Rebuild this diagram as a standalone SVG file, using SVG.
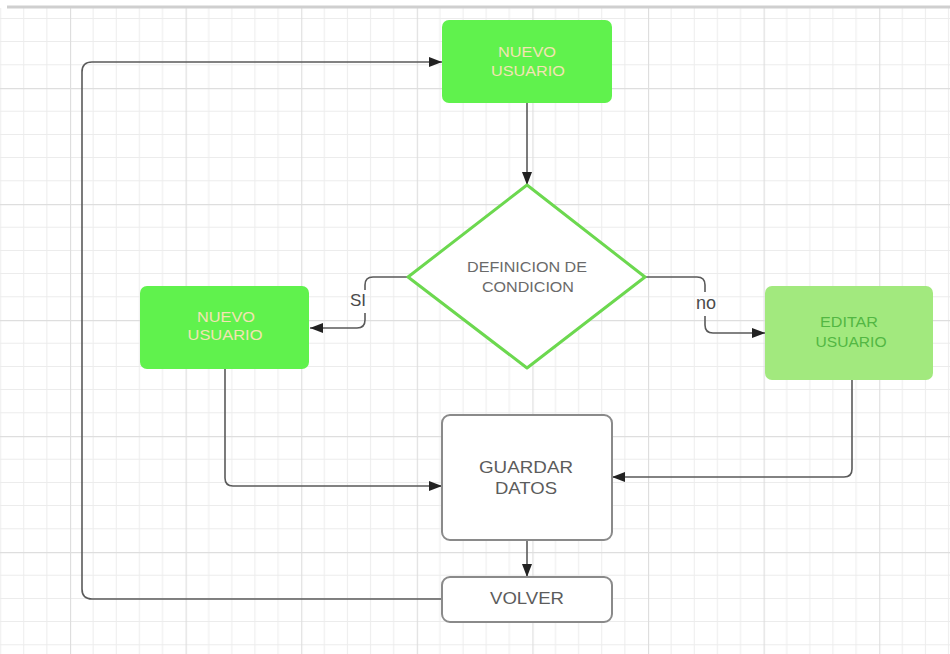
<svg xmlns="http://www.w3.org/2000/svg" width="950" height="654" viewBox="0 0 950 654">
  <style>
    .lbl { font-family: "Liberation Sans", Arial, sans-serif; text-anchor: middle; }
    .green { fill: #60f24d; }
    .light { fill: #a2e97e; }
    .white { fill: #ffffff; stroke: #8a8a8a; stroke-width: 2; }
    .conn { fill: none; stroke: #5a5a5a; stroke-width: 1.6; }
    .cream { fill: #f3e4b4; }
    .grey { fill: #5c5c5c; }
  </style>
  <defs>
    <marker id="arrow" markerUnits="userSpaceOnUse" markerWidth="13" markerHeight="10" refX="13" refY="5" orient="auto">
      <path d="M0,0 L13,5 L0,10 z" fill="#222"/>
    </marker>
    <pattern id="grid" patternUnits="userSpaceOnUse" x="70" y="88" width="115.6" height="116">
      <g stroke="#ececec" stroke-width="1">
        <line x1="23.12" y1="0" x2="23.12" y2="116"/>
        <line x1="46.24" y1="0" x2="46.24" y2="116"/>
        <line x1="69.36" y1="0" x2="69.36" y2="116"/>
        <line x1="92.48" y1="0" x2="92.48" y2="116"/>
        <line x1="0" y1="23.2" x2="115.6" y2="23.2"/>
        <line x1="0" y1="46.4" x2="115.6" y2="46.4"/>
        <line x1="0" y1="69.6" x2="115.6" y2="69.6"/>
        <line x1="0" y1="92.8" x2="115.6" y2="92.8"/>
      </g>
      <g stroke="#dedede" stroke-width="1.3">
        <line x1="0.5" y1="0" x2="0.5" y2="116"/>
        <line x1="0" y1="0.5" x2="115.6" y2="0.5"/>
      </g>
    </pattern>
  </defs>

  <!-- canvas -->
  <rect x="0" y="0" width="950" height="654" fill="#ffffff"/>
  <rect x="0" y="8" width="950" height="646" fill="url(#grid)"/>
  <line x1="7" y1="7" x2="950" y2="7" stroke="#cfcfcf" stroke-width="3"/>

  <!-- connectors -->
  <g id="connectors">
    <path class="conn" d="M527,103 V185" marker-end="url(#arrow)"/>
    <path class="conn" d="M408,277 H373 Q365,277 365,285 V290 M365,313 V320 Q365,328 357,328 H310" marker-end="url(#arrow)"/>
    <path class="conn" d="M645,277 H697 Q705,277 705,285 V292 M705,316 V325 Q705,333 713,333 H765" marker-end="url(#arrow)"/>
    <path class="conn" d="M225,369 V478 Q225,486 233,486 H442" marker-end="url(#arrow)"/>
    <path class="conn" d="M852,380 V469 Q852,477 844,477 H612" marker-end="url(#arrow)"/>
    <path class="conn" d="M527,540 V577" marker-end="url(#arrow)"/>
    <path class="conn" d="M442,599 H92 Q82,599 82,589 V72 Q82,62 92,62 H442" marker-end="url(#arrow)"/>
    <text class="lbl" x="358" y="306" font-size="17" fill="#4a4a4a">SI</text>
    <text class="lbl" x="706" y="309" font-size="18" fill="#4a4a4a">no</text>
  </g>

  <!-- nodes -->
  <g id="nuevo-usuario-top">
    <rect class="green" x="442" y="20" width="170" height="83" rx="7"/>
    <text class="lbl cream" x="527" y="57" font-size="15" textLength="58" lengthAdjust="spacingAndGlyphs">NUEVO</text>
    <text class="lbl cream" x="528" y="76" font-size="15" textLength="74" lengthAdjust="spacingAndGlyphs">USUARIO</text>
  </g>

  <g id="definicion-condicion">
    <polygon points="527,185 645,277 527,368 408,277" fill="#ffffff" stroke="#6cd84f" stroke-width="3" stroke-linejoin="round"/>
    <text class="lbl" x="527" y="272" font-size="14" fill="#6a6a6a" textLength="120" lengthAdjust="spacingAndGlyphs">DEFINICION DE</text>
    <text class="lbl" x="528" y="292" font-size="14" fill="#6a6a6a" textLength="92" lengthAdjust="spacingAndGlyphs">CONDICION</text>
  </g>

  <g id="nuevo-usuario-left">
    <rect class="green" x="140" y="286" width="169" height="83" rx="7"/>
    <text class="lbl cream" x="226" y="322" font-size="15" textLength="58" lengthAdjust="spacingAndGlyphs">NUEVO</text>
    <text class="lbl cream" x="225" y="340" font-size="15" textLength="75" lengthAdjust="spacingAndGlyphs">USUARIO</text>
  </g>

  <g id="editar-usuario">
    <rect class="light" x="765" y="286" width="168" height="94" rx="7"/>
    <text class="lbl" x="849" y="327" font-size="15" fill="#52b743" textLength="58" lengthAdjust="spacingAndGlyphs">EDITAR</text>
    <text class="lbl" x="851" y="347" font-size="15" fill="#52b743" textLength="71" lengthAdjust="spacingAndGlyphs">USUARIO</text>
  </g>

  <g id="guardar-datos">
    <rect class="white" x="442" y="415" width="170" height="125" rx="8"/>
    <text class="lbl grey" x="526" y="473" font-size="17" textLength="94" lengthAdjust="spacingAndGlyphs">GUARDAR</text>
    <text class="lbl grey" x="526" y="494" font-size="17" textLength="62" lengthAdjust="spacingAndGlyphs">DATOS</text>
  </g>

  <g id="volver">
    <rect class="white" x="442" y="577" width="170" height="45" rx="8"/>
    <text class="lbl grey" x="527" y="604" font-size="17" textLength="74" lengthAdjust="spacingAndGlyphs">VOLVER</text>
  </g>
</svg>
